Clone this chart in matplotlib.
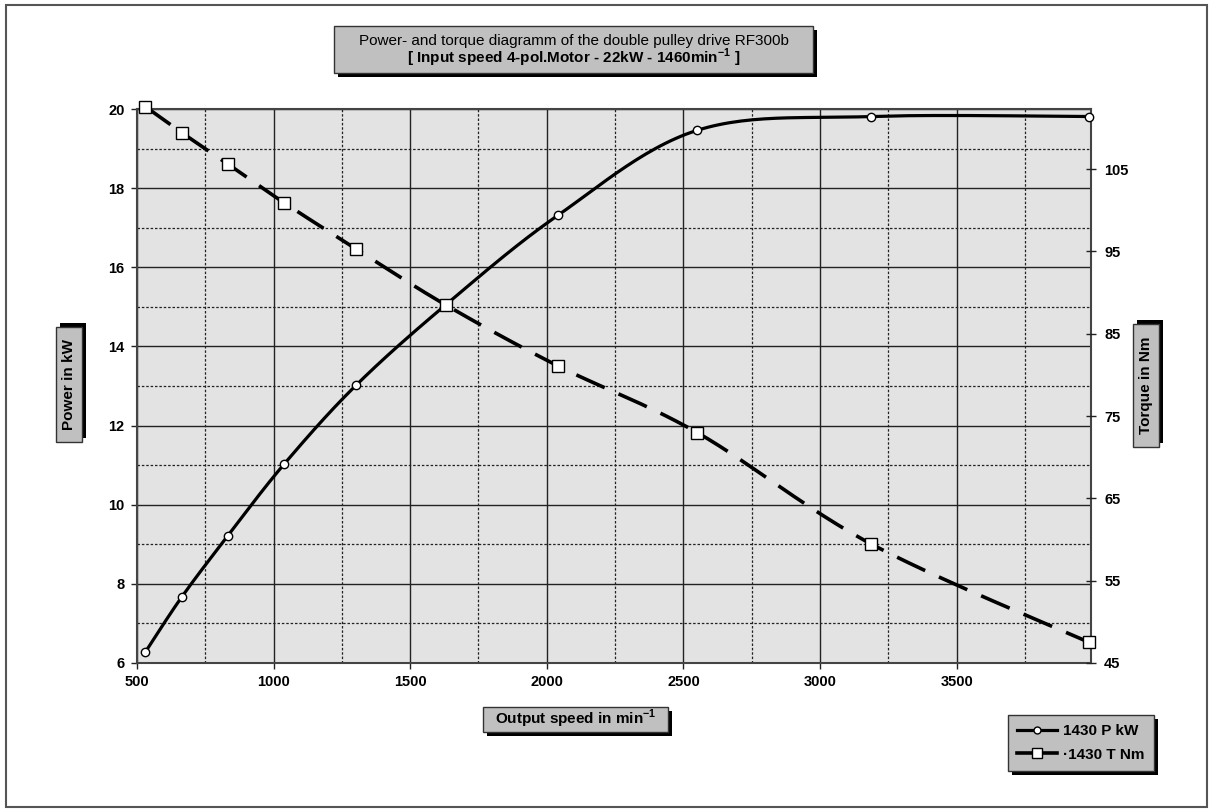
import numpy as np
import matplotlib
matplotlib.use("Agg")
import matplotlib.pyplot as plt
from matplotlib.patches import Rectangle
from matplotlib.lines import Line2D
from matplotlib.ticker import MultipleLocator

# data
speed = [530, 665, 833, 1039, 1302, 1630, 2040, 2550, 3185, 3985]
power_kw = [6.27, 7.68, 9.22, 11.03, 13.02, 15.05, 17.31, 19.46, 19.81, 19.81]
torque_nm = [112.6, 109.4, 105.6, 100.9, 95.3, 88.5, 81.1, 73.0, 59.5, 47.5]

x_ticks = [500, 1000, 1500, 2000, 2500, 3000, 3500]
power_ticks = [6, 8, 10, 12, 14, 16, 18, 20]
torque_ticks = [45, 55, 65, 75, 85, 95, 105]

W, H = 1209, 810
FONT = ["Liberation Sans", "DejaVu Sans"]
plt.rcParams["font.family"] = FONT
plt.rcParams["mathtext.fontset"] = "custom"
plt.rcParams["mathtext.rm"] = "Liberation Sans"
plt.rcParams["mathtext.bf"] = "Liberation Sans:bold"


def smooth(xs, ys, n=30):
    # excel-like smoothed line (uniform catmull-rom as bezier)
    P = np.column_stack([xs, ys]).astype(float)
    P = np.vstack([P[0], P, P[-1]])
    out = []
    t = np.linspace(0, 1, n)[:, None]
    for i in range(1, len(P) - 2):
        p0, p1, p2, p3 = P[i - 1], P[i], P[i + 1], P[i + 2]
        c1 = p1 + (p2 - p0) / 6
        c2 = p2 - (p3 - p1) / 6
        seg = ((1 - t) ** 3) * p1 + 3 * ((1 - t) ** 2) * t * c1 + 3 * (1 - t) * t ** 2 * c2 + t ** 3 * p2
        out.append(seg if i == 1 else seg[1:])
    out = np.vstack(out)
    return out[:, 0], out[:, 1]


def fx(x):
    return x / W


def fy(y):
    return 1 - y / H


def box(x0, y0, x1, y1, sx=4, sy=4):
    # grey box with black drop shadow, pixel coords from top-left
    fig.add_artist(Rectangle((fx(x0 + sx), fy(y1 + sy)), (x1 - x0) / W, (y1 - y0) / H,
                             transform=fig.transFigure, facecolor="black", edgecolor="none", zorder=5))
    fig.add_artist(Rectangle((fx(x0), fy(y1)), (x1 - x0) / W, (y1 - y0) / H,
                             transform=fig.transFigure, facecolor="#c0c0c0", edgecolor="#333333",
                             lw=1, zorder=6))


fig = plt.figure(figsize=(W / 100, H / 100), dpi=100)

# outer frame
fig.add_artist(Rectangle((fx(6), fy(807)), (1207 - 6) / W, (807 - 5) / H,
                         transform=fig.transFigure, fill=False, edgecolor="#555555", lw=1.5))

ax1 = fig.add_axes([fx(137), fy(663), (1091 - 137) / W, (663 - 109) / H])
ax1.set_facecolor("#e3e3e3")
ax1.set_xlim(500, 3992)
ax1.set_ylim(6, 20)
ax1.set_xticks(x_ticks)
ax1.set_yticks(power_ticks)
ax1.xaxis.set_minor_locator(MultipleLocator(250))
ax1.yaxis.set_minor_locator(MultipleLocator(1))
ax1.grid(which="major", color="#222222", lw=1.0, ls="-")
ax1.grid(which="minor", color="#222222", lw=0.9, ls=(0, (2, 1.5)))
ax1.set_axisbelow(True)
ax1.tick_params(which="major", direction="out", length=4, width=1, pad=5,
                labelsize=10.5, color="#222222")
ax1.tick_params(which="minor", length=0)
for lab in ax1.get_xticklabels() + ax1.get_yticklabels():
    lab.set_fontweight("bold")
for s in ax1.spines.values():
    s.set_color("#444444")
    s.set_linewidth(1.5)

px, py = smooth(speed, power_kw)
ax1.plot(px, py, color="black", lw=2.3, solid_capstyle="round", zorder=3)
ax1.plot(speed, power_kw, ls="none", marker="o", ms=6, mfc="white", mec="black",
         mew=1.0, zorder=4, clip_on=False)

ax2 = ax1.twinx()
ax2.set_ylim(45, 112.3)
ax2.set_yticks(torque_ticks)
ax2.tick_params(direction="inout", length=7, width=1, pad=6, labelsize=10.5, color="#222222")
for lab in ax2.get_yticklabels():
    lab.set_fontweight("bold")
for s in ax2.spines.values():
    s.set_visible(False)

tx, ty = smooth(speed, torque_nm)
ax2.plot(tx, ty, color="black", lw=2.6, ls=(0, (8.6, 4.2)), zorder=3)
ax2.plot(speed, torque_nm, ls="none", marker="s", ms=8.5, mfc="white", mec="black",
         mew=1.0, zorder=4, clip_on=False)

# title box
box(334, 26, 813, 73)
fig.text(fx(573.5), fy(40.5), "Power- and torque diagramm of the double pulley drive RF300b",
         ha="center", va="center", fontsize=11, zorder=7)
fig.text(fx(573.5), fy(58), r"[ Input speed 4-pol.Motor - 22kW - 1460min$^{\mathbf{-1}}$ ]",
         ha="center", va="center", fontsize=11, fontweight="bold", zorder=7)

# axis label boxes
box(483, 707, 668, 732)
fig.text(fx(575.5), fy(719), r"Output speed in min$^{\mathbf{-1}}$", ha="center", va="center",
         fontsize=11, fontweight="bold", zorder=7)

box(56, 327, 82, 442, sx=4, sy=-4)
fig.text(fx(69), fy(384.5), "Power in kW", rotation=90, ha="center", va="center",
         fontsize=11, fontweight="bold", zorder=7)

box(1133, 324, 1159, 447, sx=4, sy=-4)
fig.text(fx(1146), fy(385.5), "Torque in Nm", rotation=90, ha="center", va="center",
         fontsize=11, fontweight="bold", zorder=7)

# legend box
box(1008, 715, 1154, 771)
h1 = Line2D([], [], color="black", lw=2.3, marker="o", ms=5, mfc="white", mec="black")
h2 = Line2D([], [], color="black", lw=2.6, marker="s", ms=7, mfc="white", mec="black")
leg = fig.legend([h1, h2], ["1430 P kW", "\u00b71430 T Nm"], loc="center",
                 bbox_to_anchor=(fx(1081), fy(743)), frameon=False, fontsize=11,
                 handlelength=2.6, handletextpad=0.4, labelspacing=0.6, borderpad=0)
leg.set_zorder(8)
for t in leg.get_texts():
    t.set_fontweight("bold")

fig.savefig("out.png", dpi=100)
